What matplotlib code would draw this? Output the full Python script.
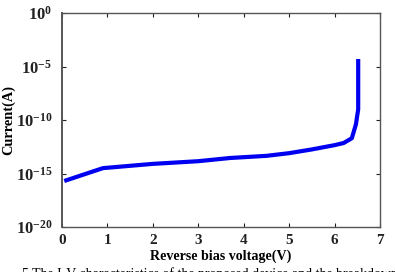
import matplotlib

matplotlib.use("Agg")
import matplotlib.pyplot as plt
import numpy as np

# reverse I-V curve (log10 of current in A)
voltage = [0.05, 0.9, 2.0, 3.0, 3.7, 4.5, 5.0, 5.5, 6.0, 6.2, 6.38, 6.47, 6.52, 6.52]
log_current = [-15.7, -14.5, -14.1, -13.85, -13.55, -13.35, -13.1, -12.75, -12.35,
               -12.15, -11.7, -10.4, -9.0, -4.3]
x_ticks = [0, 1, 2, 3, 4, 5, 6, 7]
y_exps = [0, -5, -10, -15, -20]

plt.rcParams["font.family"] = "Liberation Serif"
plt.rcParams["font.weight"] = "bold"
plt.rcParams["mathtext.fontset"] = "custom"
plt.rcParams["mathtext.rm"] = "Liberation Serif:bold"
plt.rcParams["mathtext.bf"] = "Liberation Serif:bold"

fig = plt.figure(figsize=(3.95, 2.72), dpi=100)
ax = fig.add_axes([62 / 395, 1 - 227 / 272, 318 / 395, 214 / 272])

ax.semilogy(voltage, 10.0 ** np.array(log_current), color="#0000f0", lw=3.0,
            solid_capstyle="butt")
ax.set_xlim(0, 7)
ax.set_ylim(1e-20, 1e0)
ax.set_xticks(x_ticks)
ax.set_xticklabels([str(t) for t in x_ticks], fontsize=11, fontweight="bold")
ax.set_yticks([10.0 ** e for e in y_exps])
ax.set_yticklabels([rf"$\mathbf{{10^{{{e}}}}}$" for e in y_exps], fontsize=12)
ax.minorticks_off()
ax.tick_params(direction="in", top=True, right=True, length=3, width=0.8,
               colors="#222222")
ax.tick_params(axis="x", pad=5)
ax.tick_params(axis="y", pad=7)
for s in ax.spines.values():
    s.set_color("#555555")
    s.set_linewidth(1.0)
ax.spines["left"].set_linewidth(1.4)

ax.set_xlabel("Reverse bias voltage(V)", fontsize=10.1, fontweight="bold")
ax.set_ylabel("Current(A)", fontsize=10.4, fontweight="bold")
ax.xaxis.set_label_coords(0.5, -0.107)
ax.yaxis.set_label_coords(-0.148, 0.5)

# caption below the figure, cut off by the bottom edge as in the source
fig.text(0.055, 0.016, "5 The I-V characteristics of the proposed device and the breakdown",
         fontsize=10, fontweight="normal", va="top", ha="left")

fig.savefig("out.png", dpi=100)
